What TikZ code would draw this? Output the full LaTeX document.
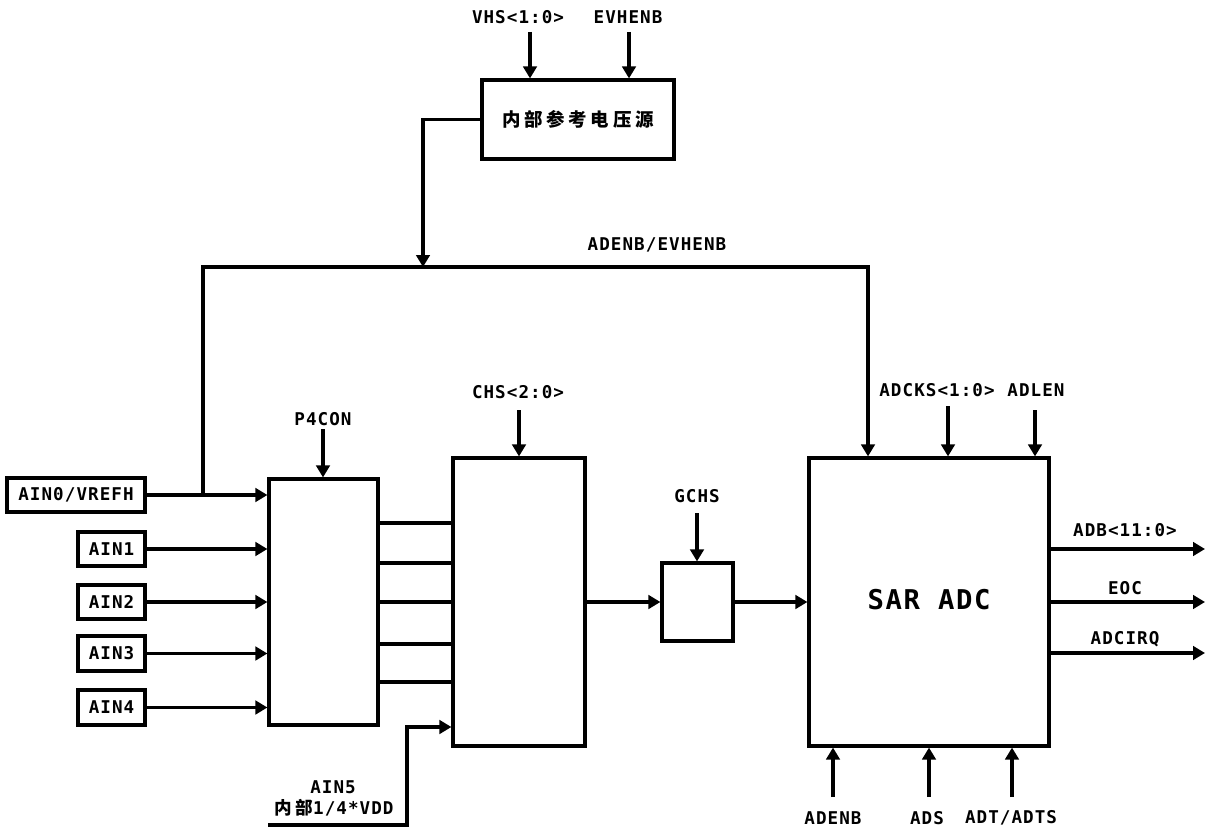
\documentclass[tikz,border=0pt]{standalone}
\usepackage{fontspec}
\setmainfont{DejaVu Sans Mono}[LetterSpace=6]
\newfontfamily\cjk{Noto Sans CJK SC}[LetterSpace=20]
\usetikzlibrary{arrows.meta,fit}
\begin{document}
\begin{tikzpicture}[x=0.02cm,y=-0.02cm, line width=1.8pt,
  txt/.style={font=\bfseries\fontsize{10}{12}\selectfont},
  box/.style={draw, inner sep=0pt},
  lab/.style={inner sep=0pt, txt},
  arr/.style={-{Triangle[length=0.24cm,width=0.27cm]}}]
\useasboundingbox (0,0) rectangle (1207,828);

% internal reference
\node[box, fit={(482,80) (674,159)}] (ref) {};
\node[lab, font=\cjk\bfseries\fontsize{10.5}{12}\selectfont] (refl) at (ref.center) {内部参考电压源};
\node[lab] (vhs) at (518,17) {VHS<1:0>};
\node[lab] (evh) at (628,17) {EVHENB};
\coordinate (vhsT) at (530,32);
\coordinate (evhT) at (629,32);
\draw[arr] (vhsT) -- (vhsT |- ref.north);
\draw[arr] (evhT) -- (evhT |- ref.north);

% input boxes
\node[box, fit={(7,478) (145,512)}] (ain0) {};
\node[box, fit={(78,532) (145,566)}] (ain1) {};
\node[box, fit={(78,585) (145,619)}] (ain2) {};
\node[box, fit={(78,636) (145,671)}] (ain3) {};
\node[box, fit={(78,690) (145,725)}] (ain4) {};
\node[lab] (ain0l) at (ain0.center) {AIN0/VREFH};
\node[lab] (ain1l) at (ain1.center) {AIN1};
\node[lab] (ain2l) at (ain2.center) {AIN2};
\node[lab] (ain3l) at (ain3.center) {AIN3};
\node[lab] (ain4l) at (ain4.center) {AIN4};

% P4CON block
\node[box, fit={(269,479) (378,725)}] (p4) {};
\node[lab] (p4l) at (323,419) {P4CON};
\coordinate (p4T) at (323,429);
\draw[arr] (p4T) -- (p4T |- p4.north);

% channel mux
\node[box, fit={(453,458) (585,746)}] (chs) {};
\node[lab] (chsl) at (518,392) {CHS<2:0>};
\coordinate (chsT) at (519,410);
\draw[arr] (chsT) -- (chsT |- chs.north);

% GCHS
\node[box, fit={(662,563) (733,641)}] (gchs) {};
\node[lab] (gchsl) at (697,496) {GCHS};
\coordinate (gchsT) at (697,513);
\draw[arr] (gchsT) -- (gchsT |- gchs.north);

% SAR ADC
\node[box, fit={(809,458) (1049,746)}] (sar) {};
\node[lab, font=\bfseries\fontsize{15.5}{18}\selectfont] (sarl) at (929,600) {SAR ADC};

% inputs to P4CON
\foreach \n in {ain0,ain1,ain2,ain3,ain4}
  \draw[arr] (\n.east) -- (\n.east -| p4.west);

% P4CON to mux
\foreach \y in {523,563,602,644,682}
  \draw (p4.east |- 0,\y) -- (chs.west |- 0,\y);

% AIN5
\coordinate (a5L) at (268,825);
\coordinate (a5R) at (407,825);
\draw[arr] (a5L) -- (a5R) -- (a5R |- 0,727) -- (chs.west |- 0,727);
\node[lab] (ain5) at (333,787) {AIN5};
\node[lab] (ain5b) at (334,808) {{\cjk 内部}1/4*VDD};

% reference bus
\coordinate (j1) at (423,267);
\coordinate (bl) at (203,267);
\coordinate (br) at (868,267);
\draw[arr] (ref.west) -| (j1);
\draw[arr] (ain0.east -| bl) -- (bl) -- (br) -- (br |- sar.north);
\node[lab] (bus) at (657,245) {ADENB/EVHENB};

% signal path
\draw[arr] (chs.east) -- (chs.east -| gchs.west);
\draw[arr] (gchs.east) -- (gchs.east -| sar.west);

% SAR top controls
\node[lab] (adcks) at (937,390) {ADCKS<1:0>};
\node[lab] (adlen) at (1036,390) {ADLEN};
\coordinate (adcksT) at (948,406);
\coordinate (adlenT) at (1035,410);
\draw[arr] (adcksT) -- (adcksT |- sar.north);
\draw[arr] (adlenT) -- (adlenT |- sar.north);

% SAR outputs
\coordinate (o1) at (1205,549);
\coordinate (o2) at (1205,602);
\coordinate (o3) at (1205,653);
\draw[arr] (sar.east |- o1) -- (o1);
\draw[arr] (sar.east |- o2) -- (o2);
\draw[arr] (sar.east |- o3) -- (o3);
\node[lab] (adb) at (1125,530) {ADB<11:0>};
\node[lab] (eoc) at (1125,588) {EOC};
\node[lab] (irq) at (1125,639) {ADCIRQ};

% SAR bottom controls
\coordinate (b1) at (833,797);
\coordinate (b2) at (929,797);
\coordinate (b3) at (1012,797);
\draw[arr] (b1) -- (b1 |- sar.south);
\draw[arr] (b2) -- (b2 |- sar.south);
\draw[arr] (b3) -- (b3 |- sar.south);
\node[lab] (adenb) at (833,818) {ADENB};
\node[lab] (ads) at (927,818) {ADS};
\node[lab] (adt) at (1011,818) {ADT/ADTS};
\end{tikzpicture}
\end{document}
